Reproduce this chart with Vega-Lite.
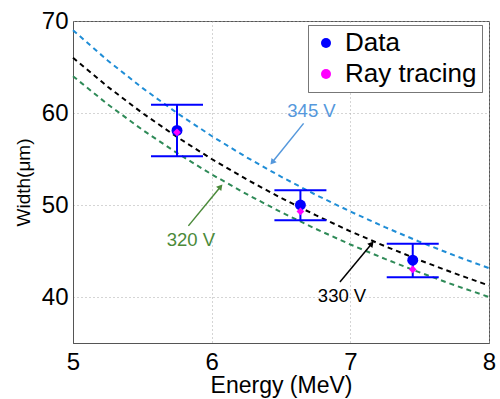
{
  "$schema": "https://vega.github.io/schema/vega-lite/v6.json",
  "width": 416,
  "height": 322,
  "autosize": "none",
  "padding": {"left": 73, "top": 21, "right": 11, "bottom": 56},
  "config": {
    "font": "Liberation Sans",
    "view": {"stroke": "#555555", "strokeWidth": 1},
    "axis": {
      "domainColor": "#555555",
      "labelColor": "#000000",
      "titleColor": "#000000",
      "titleFontWeight": "normal",
      "ticks": false,
      "grid": true,
      "gridDash": [1, 3],
      "gridColor": "#aaaaaa",
      "labelFlush": false,
      "labelFontSize": 24
    },
    "legend": {
      "orient": "none", "legendX": 235, "legendY": 4, "title": null,
      "strokeColor": "#777777", "fillColor": "#ffffff", "padding": 5,
      "labelFontSize": 26, "labelLimit": 200, "rowPadding": 5,
      "symbolOffset": 0, "labelOffset": 6
    }
  },
  "datasets": {
    "curves": [
      {"E": 5.0, "W": 69.0, "V": "345 V"}, {"E": 5.25, "W": 65.71, "V": "345 V"}, {"E": 5.5, "W": 62.73, "V": "345 V"},
      {"E": 5.75, "W": 60.0, "V": "345 V"}, {"E": 6.0, "W": 57.5, "V": "345 V"}, {"E": 6.25, "W": 55.2, "V": "345 V"},
      {"E": 6.5, "W": 53.08, "V": "345 V"}, {"E": 6.75, "W": 51.11, "V": "345 V"}, {"E": 7.0, "W": 49.29, "V": "345 V"},
      {"E": 7.25, "W": 47.59, "V": "345 V"}, {"E": 7.5, "W": 46.0, "V": "345 V"}, {"E": 7.75, "W": 44.52, "V": "345 V"},
      {"E": 8.0, "W": 43.13, "V": "345 V"},
      {"E": 5.0, "W": 66.0, "V": "330 V"}, {"E": 5.25, "W": 62.86, "V": "330 V"}, {"E": 5.5, "W": 60.0, "V": "330 V"},
      {"E": 5.75, "W": 57.39, "V": "330 V"}, {"E": 6.0, "W": 55.0, "V": "330 V"}, {"E": 6.25, "W": 52.8, "V": "330 V"},
      {"E": 6.5, "W": 50.77, "V": "330 V"}, {"E": 6.75, "W": 48.89, "V": "330 V"}, {"E": 7.0, "W": 47.14, "V": "330 V"},
      {"E": 7.25, "W": 45.52, "V": "330 V"}, {"E": 7.5, "W": 44.0, "V": "330 V"}, {"E": 7.75, "W": 42.58, "V": "330 V"},
      {"E": 8.0, "W": 41.25, "V": "330 V"},
      {"E": 5.0, "W": 64.0, "V": "320 V"}, {"E": 5.25, "W": 60.95, "V": "320 V"}, {"E": 5.5, "W": 58.18, "V": "320 V"},
      {"E": 5.75, "W": 55.65, "V": "320 V"}, {"E": 6.0, "W": 53.33, "V": "320 V"}, {"E": 6.25, "W": 51.2, "V": "320 V"},
      {"E": 6.5, "W": 49.23, "V": "320 V"}, {"E": 6.75, "W": 47.41, "V": "320 V"}, {"E": 7.0, "W": 45.71, "V": "320 V"},
      {"E": 7.25, "W": 44.14, "V": "320 V"}, {"E": 7.5, "W": 42.67, "V": "320 V"}, {"E": 7.75, "W": 41.29, "V": "320 V"},
      {"E": 8.0, "W": 40.0, "V": "320 V"}
    ],
    "points": [
      {"E": 5.75, "W": 58.1, "lo": 55.3, "hi": 60.9, "series": "Data"},
      {"E": 6.64, "W": 50.0, "lo": 48.35, "hi": 51.6, "series": "Data"},
      {"E": 7.45, "W": 44.0, "lo": 42.15, "hi": 45.8, "series": "Data"},
      {"E": 5.75, "W": 57.9, "series": "Ray tracing"},
      {"E": 6.64, "W": 49.3, "series": "Ray tracing"},
      {"E": 7.45, "W": 43.0, "series": "Ray tracing"}
    ],
    "notes": [
      {"label": "345 V", "tx": 6.72, "ty": 60.2, "sx": 6.663, "sy": 58.87, "ex": 6.437, "ey": 54.64},
      {"label": "320 V", "tx": 5.85, "ty": 46.2, "sx": 5.832, "sy": 47.73, "ex": 6.064, "ey": 51.99},
      {"label": "330 V", "tx": 6.94, "ty": 40.08, "sx": 6.925, "sy": 41.64, "ex": 7.154, "ey": 45.79}
    ]
  },
  "layer": [
    {
      "data": {"name": "curves"},
      "mark": {"type": "line", "strokeDash": [5, 4], "strokeWidth": 2},
      "encoding": {
        "x": {
          "field": "E", "type": "quantitative",
          "scale": {"domain": [5, 8], "nice": false},
          "axis": {"values": [5, 6, 7, 8], "format": "d", "labelPadding": 7, "title": "Energy (MeV)", "titleFontSize": 23, "titlePadding": 0}
        },
        "y": {
          "field": "W", "type": "quantitative",
          "scale": {"domain": [35, 70], "nice": false, "zero": false},
          "axis": {"values": [40, 50, 60, 70], "format": "d", "labelPadding": 5, "title": "Width(μm)", "titleFontSize": 19, "titlePadding": 8}
        },
        "color": {
          "field": "V", "type": "nominal",
          "scale": {"domain": ["320 V", "330 V", "345 V"], "range": ["#2e8a57", "#000000", "#1f8dd6"]},
          "legend": null
        },
        "detail": {"field": "V"}
      }
    },
    {
      "data": {"name": "points"},
      "transform": [{"filter": "datum.series === 'Data'"}],
      "mark": {"type": "rule", "color": "#0000ff", "strokeWidth": 2},
      "encoding": {
        "x": {"field": "E", "type": "quantitative"},
        "y": {"field": "lo", "type": "quantitative"},
        "y2": {"field": "hi"}
      }
    },
    {
      "data": {"name": "points"},
      "transform": [{"filter": "datum.series === 'Data'"}],
      "mark": {"type": "tick", "orient": "horizontal", "color": "#0000ff", "size": 52, "thickness": 2, "opacity": 1},
      "encoding": {
        "x": {"field": "E", "type": "quantitative"},
        "y": {"field": "lo", "type": "quantitative"}
      }
    },
    {
      "data": {"name": "points"},
      "transform": [{"filter": "datum.series === 'Data'"}],
      "mark": {"type": "tick", "orient": "horizontal", "color": "#0000ff", "size": 52, "thickness": 2, "opacity": 1},
      "encoding": {
        "x": {"field": "E", "type": "quantitative"},
        "y": {"field": "hi", "type": "quantitative"}
      }
    },
    {
      "data": {"name": "points"},
      "mark": {"type": "point", "filled": true, "opacity": 1},
      "encoding": {
        "x": {"field": "E", "type": "quantitative"},
        "y": {"field": "W", "type": "quantitative"},
        "color": {
          "field": "series", "type": "nominal",
          "scale": {"domain": ["Data", "Ray tracing"], "range": ["#0000ff", "#ff00ff"]}
        },
        "shape": {
          "field": "series", "type": "nominal",
          "scale": {"domain": ["Data", "Ray tracing"], "range": ["circle", "diamond"]}
        },
        "size": {
          "field": "series", "type": "nominal",
          "scale": {"domain": ["Data", "Ray tracing"], "range": [120, 60]}
        }
      }
    },
    {
      "data": {"name": "notes"},
      "mark": {"type": "rule", "strokeWidth": 1.5},
      "encoding": {
        "x": {"field": "sx", "type": "quantitative"},
        "y": {"field": "sy", "type": "quantitative"},
        "x2": {"field": "ex"},
        "y2": {"field": "ey"},
        "color": {
          "field": "label", "type": "nominal",
          "scale": {"domain": ["320 V", "330 V", "345 V"], "range": ["#4b8a3a", "#000000", "#5598dc"]},
          "legend": null
        }
      }
    },
    {
      "data": {"name": "notes"},
      "transform": [{"filter": "datum.label === '345 V'"}],
      "mark": {"type": "point", "shape": "triangle-up", "filled": true, "opacity": 1, "size": 45, "angle": 219, "color": "#5598dc"},
      "encoding": {
        "x": {"field": "ex", "type": "quantitative"},
        "y": {"field": "ey", "type": "quantitative"}
      }
    },
    {
      "data": {"name": "notes"},
      "transform": [{"filter": "datum.label !== '345 V'"}],
      "mark": {"type": "point", "shape": "triangle-up", "filled": true, "opacity": 1, "size": 45, "angle": 40},
      "encoding": {
        "x": {"field": "ex", "type": "quantitative"},
        "y": {"field": "ey", "type": "quantitative"},
        "color": {
          "field": "label", "type": "nominal",
          "scale": {"domain": ["320 V", "330 V", "345 V"], "range": ["#4b8a3a", "#000000", "#5598dc"]},
          "legend": null
        }
      }
    },
    {
      "data": {"name": "notes"},
      "mark": {"type": "text", "fontSize": 18.5, "align": "center", "baseline": "middle"},
      "encoding": {
        "x": {"field": "tx", "type": "quantitative"},
        "y": {"field": "ty", "type": "quantitative"},
        "text": {"field": "label"},
        "color": {
          "field": "label", "type": "nominal",
          "scale": {"domain": ["320 V", "330 V", "345 V"], "range": ["#4b8a3a", "#000000", "#5598dc"]},
          "legend": null
        }
      }
    }
  ],
  "resolve": {"scale": {"color": "independent"}}
}
